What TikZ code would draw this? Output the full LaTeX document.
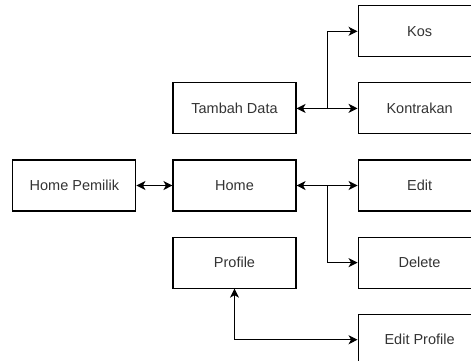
\documentclass[tikz,border=0pt]{standalone}
\usepackage{fontspec}
\setmainfont{Liberation Sans}
\usetikzlibrary{positioning,arrows.meta,calc}
\definecolor{mytext}{RGB}{51,51,51}

\begin{document}
\begin{tikzpicture}[x=1pt,y=-1pt,font=\fontsize{14.5}{17}\selectfont,line width=1.1pt,
  box/.style={draw,text=mytext,minimum width=123pt,minimum height=51pt,inner sep=0pt},
  both/.style={{Stealth[length=9pt,width=9pt,inset=2.5pt]}-{Stealth[length=9pt,width=9pt,inset=2.5pt]}},
  one/.style={-{Stealth[length=9pt,width=9pt,inset=2.5pt]}}]

  \useasboundingbox (0,0) rectangle (471,360);
  \clip (0,0) rectangle (471,360);

  \node[box] (home) at (234.5,185.5) {Home};
  \node[box,left=36pt of home] (homepemilik) {Home Pemilik};
  \node[box,above=25pt of home] (tambahdata) {Tambah Data};
  \node[box,below=25pt of home] (profile) {Profile};

  \node[box,right=61pt of home] (edit) {Edit};
  \node[box,above=25pt of edit] (kontrakan) {Kontrakan};
  \node[box,above=25pt of kontrakan] (kos) {Kos};
  \node[box,below=25pt of edit] (delete) {Delete};
  \node[box,below=25pt of delete] (editprofile) {Edit Profile};

  % split points
  \coordinate (tdsplit) at ($(tambahdata.east)!0.5!(kontrakan.west)$);
  \coordinate (homesplit) at ($(home.east)!0.5!(edit.west)$);

  % tambah data links
  \draw[both] (tambahdata) -- (kontrakan);
  \draw[one] (tdsplit) |- (kos);

  % home links
  \draw[both] (homepemilik) -- (home);
  \draw[both] (home) -- (edit);
  \draw[one] (homesplit) |- (delete);

  % profile link
  \draw[both] (profile) |- (editprofile);

\end{tikzpicture}
\end{document}
